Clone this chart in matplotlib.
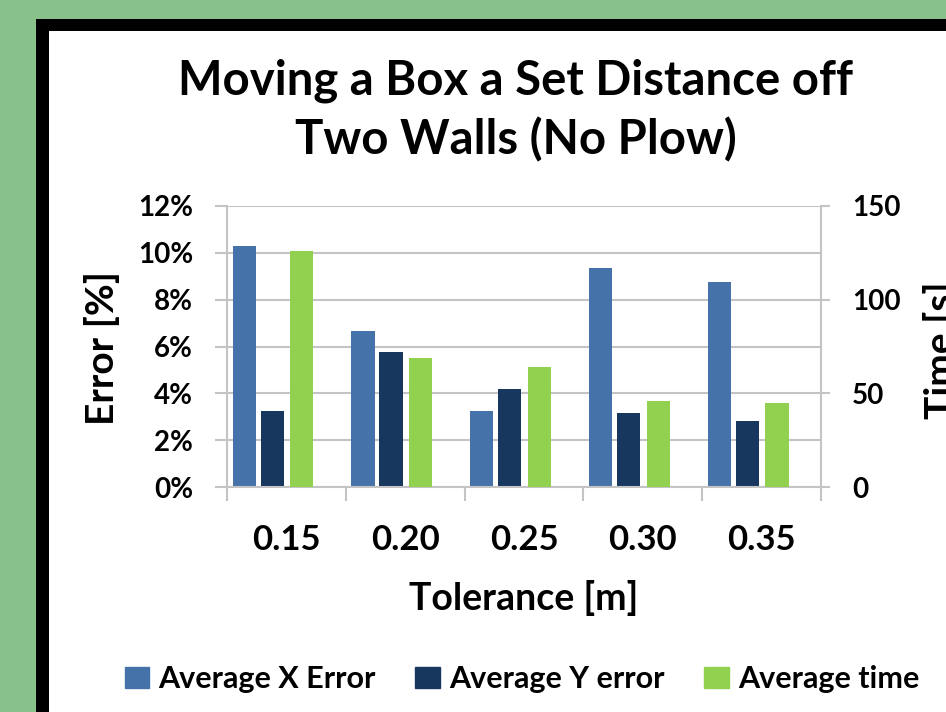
import matplotlib.pyplot as plt
from matplotlib.patches import Rectangle, Patch
from matplotlib.ticker import FuncFormatter
import numpy as np

tolerances = ['0.15', '0.20', '0.25', '0.30', '0.35']
avg_x_error = [10.3, 6.65, 3.25, 9.35, 8.75]   # %
avg_y_error = [3.25, 5.75, 4.2, 3.15, 2.8]     # %
avg_time = [126, 69, 64, 46, 45]               # s

c_x = '#4573a9'
c_y = '#17375e'
c_t = '#92d050'
grid_c = '#c4c4c4'
font = 'Lato'

plt.rcParams['font.family'] = font
plt.rcParams['font.weight'] = 'bold'

fig = plt.figure(figsize=(9.46, 7.12), dpi=100, facecolor='#88c18a')
W, H = 946, 712

# black frame and white chart area (kept under the axes)
fig.patches.append(Rectangle((36 / W, 0), 1, (H - 19) / H, transform=fig.transFigure,
                             facecolor='black', edgecolor='none', zorder=-3))
fig.patches.append(Rectangle((49 / W, 0), 1, (H - 31) / H, transform=fig.transFigure,
                             facecolor='white', edgecolor='none', zorder=-2))

ax = fig.add_axes([227 / W, (H - 487) / H, (821 - 227) / W, (487 - 206) / H])
ax.patch.set_alpha(0)
ax2 = ax.twinx()

idx = np.arange(len(tolerances))
w = 0.195
ax.bar(idx - 0.355, avg_x_error, w, color=c_x, zorder=2)
ax.bar(idx - 0.12, avg_y_error, w, color=c_y, zorder=2)
ax2.bar(idx + 0.13, avg_time, w, color=c_t, zorder=2)

ax.set_xlim(-0.5, 4.5)
ax.set_ylim(0, 12)
ax.set_yticks(range(0, 13, 2))
ax.yaxis.set_major_formatter(FuncFormatter(lambda v, p: f'{v:.0f}%'))
ax2.set_ylim(0, 150)
ax2.set_yticks([0, 50, 100, 150])

ax.grid(axis='y', color=grid_c, linewidth=1.5)
ax.set_axisbelow(True)

# category boundaries get the tick marks, names sit in between
ax.set_xticks(np.arange(-0.5, 5, 1))
ax.set_xticklabels([])
ax.set_xticks(idx, minor=True)
ax.set_xticklabels(tolerances, minor=True)
ax.tick_params(axis='x', which='major', length=10, width=1.5, color=grid_c)
ax.tick_params(axis='x', which='minor', length=0, pad=27, labelsize=25)
ax.tick_params(axis='y', length=8.5, width=1.5, color=grid_c, pad=16, labelsize=20)
ax2.tick_params(axis='y', length=6.5, width=1.5, color=grid_c, pad=16, labelsize=20)

for a in (ax, ax2):
    a.spines['top'].set_visible(False)
    for s in ('left', 'right', 'bottom'):
        a.spines[s].set_color(grid_c)
        a.spines[s].set_linewidth(1.5)
ax.spines['right'].set_visible(False)
ax2.spines['left'].set_visible(False)
ax2.spines['bottom'].set_visible(False)

fig.text(516 / W, (H - 110) / H, 'Moving a Box a Set Distance off\nTwo Walls (No Plow)',
         ha='center', va='center', fontsize=34, fontweight='bold', linespacing=1.38)
fig.text(524 / W, (H - 598) / H, 'Tolerance [m]', ha='center', va='center',
         fontsize=27, fontweight='bold')
fig.text(102 / W, (H - 348) / H, 'Error [%]', ha='center', va='center', rotation=90,
         fontsize=28, fontweight='bold')
fig.text(923 / W, (H - 350) / H, 'Time [s]', ha='left', va='center', rotation=90,
         fontsize=28, fontweight='bold')

handles = [Patch(color=c_x), Patch(color=c_y), Patch(color=c_t)]
fig.legend(handles, ['Average X Error', 'Average Y error', 'Average time'],
           loc='center', bbox_to_anchor=(522 / W, (H - 679) / H), ncol=3,
           frameon=False, handlelength=0.8, handleheight=0.7,
           handletextpad=0.3, columnspacing=1.3, prop={'weight': 'bold', 'size': 22})

fig.savefig('out.png', dpi=100, facecolor=fig.get_facecolor())
